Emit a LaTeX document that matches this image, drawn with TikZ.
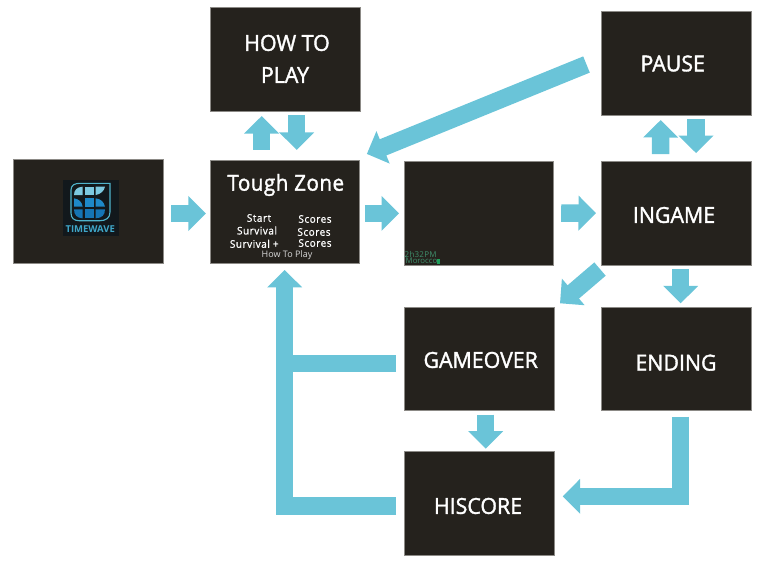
\documentclass[tikz,border=0pt]{standalone}
\usepackage{fontspec}
\setmainfont{Open Sans}
\newfontfamily\labelfont[FakeStretch=0.97,FakeBold=1.6]{Open Sans}
\newfontfamily\smallfont[FakeBold=1,LetterSpace=5,FakeStretch=0.95]{Open Sans}
\newfontfamily\titlefont[FakeStretch=0.94,FakeBold=1.6,LetterSpace=2]{Open Sans}
\newfontfamily\clockfont[LetterSpace=3]{Open Sans}
\newfontfamily\placefont{Open Sans}
\usetikzlibrary{arrows.meta,calc}
\definecolor{boxfill}{HTML}{25221D}
\definecolor{boxline}{HTML}{8C8A86}
\definecolor{flowblue}{HTML}{6AC4D8}
\definecolor{clockgreen}{HTML}{3F8F6C}
\definecolor{clocksquare}{HTML}{1E9E5A}
\definecolor{logobg}{HTML}{12181C}
\definecolor{logoedge}{HTML}{4FB4CC}
\definecolor{logolight}{HTML}{7CC8E0}
\definecolor{logomid}{HTML}{1E88C8}
\definecolor{logodark}{HTML}{1574B4}
\definecolor{logotextc}{HTML}{3FA6C8}
\tikzset{
  screen/.style={draw=boxline,line width=0.5pt,fill=boxfill,inner sep=0pt,outer sep=0pt},
  flow/.style={draw=flowblue,line width=17.5pt,line cap=butt,line join=miter,-{Triangle[length=17.5pt,width=34pt,color=flowblue]}},
  branch/.style={draw=flowblue,line width=17.5pt,line cap=butt,line join=miter},
  biglabel/.style={text=white,inner sep=0pt,text height=15.7pt,text depth=0pt,font=\fontsize{22pt}{22pt}\labelfont},
  small/.style={text=white,inner sep=0pt,text height=7.5pt,text depth=0pt,font=\fontsize{10.5pt}{10.5pt}\smallfont},
  clock/.style={text=clockgreen,inner sep=0pt,anchor=base west,font=\fontsize{8pt}{8pt}\clockfont},
}
\begin{document}
\begin{tikzpicture}[x=1pt,y=-1pt]
\useasboundingbox (0,0) rectangle (765,563);
% screens
\node[screen,minimum width=150pt,minimum height=104pt] (logo) at (88,211) {};
\node[screen,minimum width=149.5pt,minimum height=103.7pt] (tough) at (284.7,211.8) {};
\node[screen,minimum width=149.7pt,minimum height=104pt] (blank) at (478.85,213) {};
\node[screen,minimum width=149.7pt,minimum height=103.7pt] (ingame) at (676.15,213.2) {};
\node[screen,minimum width=149.6pt,minimum height=104pt] (howto) at (285.5,59.3) {};
\node[screen,minimum width=150pt,minimum height=104pt] (pause) at (676,63.7) {};
\node[screen,minimum width=150pt,minimum height=103.7pt] (gameover) at (479.7,358.85) {};
\node[screen,minimum width=149.7pt,minimum height=103.7pt] (ending) at (676.15,358.85) {};
\node[screen,minimum width=150pt,minimum height=103.7pt] (hiscore) at (479.7,503.5) {};
% connectors
\draw[flow] ($(logo.east)+(8,2.5)$) -- ($(tough.west)+(-4,1.7)$);
\draw[flow] ($(tough.east)+(5.3,1.5)$) -- ($(blank.west)+(-5,0.3)$);
\draw[flow] ($(blank.east)+(7.5,0)$) -- ($(ingame.west)+(-5.3,0)$);
\draw[flow] ($(tough.north)+(-23,-10)$) -- ($(howto.south)+(-23.8,4.7)$);
\draw[flow] ($(howto.south)+(11.2,3.7)$) -- ($(tough.north)+(12,-10)$);
\draw[flow] ($(ingame.north)+(-15.5,-7.3)$) -- ($(pause.south)+(-15.3,4.3)$);
\draw[flow] ($(pause.south)+(20,3.3)$) -- ($(ingame.north)+(19.85,-8.3)$);
\draw[flow] ($(pause.west)+(-14.5,0.8)$) -- ($(tough.north east)+(7.4,-6)$);
\draw[flow] ($(ingame.south west)+(-1.3,4)$) -- ($(gameover.north east)+(5.3,-3.7)$);
\draw[flow] ($(ingame.south)+(4.55,4)$) -- ($(ending.north)+(4.55,-3.7)$);
\draw[flow] ($(gameover.south)+(6,4)$) -- ($(hiscore.north)+(6,-3)$);
\draw[flow] ($(ending.south)+(4.15,6)$) |- ($(hiscore.east)+(8,-7.2)$);
\draw[branch] ($(gameover.west)+(-8.7,4.85)$) -| ($(tough.south)+(0,30)$);
\draw[flow] ($(hiscore.west)+(-8.7,2.5)$) -| ($(tough.south)+(0,6.3)$);
% labels
\node[biglabel] (l1) at (287,43) {HOW TO};
\node[biglabel] (l2) at (285,75) {PLAY};
\node[biglabel] (l3) at (672.7,63.5) {PAUSE};
\node[biglabel] (l4) at (674,215) {INGAME};
\node[biglabel] (l5) at (480.7,360) {GAMEOVER};
\node[biglabel] (l6) at (676,362.7) {ENDING};
\node[biglabel] (l7) at (478,506) {HISCORE};
\node[biglabel,font=\fontsize{22pt}{22pt}\titlefont] (t0) at (285.8,182.8) {Tough Zone};
\node[small] (t1) at (259,218) {Start};
\node[small] (t2) at (257,230.7) {Survival};
\node[small] (t3) at (254.3,244) {Survival +};
\node[small] (t4) at (315,219) {Scores};
\node[small] (t5) at (314,232) {Scores};
\node[small] (t6) at (315,243) {Scores};
\node[text=white!85!black,inner sep=0pt,text height=6.4pt,text depth=0pt,font=\fontsize{9pt}{9pt}\selectfont] (t7) at (287,254) {How To Play};
% clock
\node[clock] (c1) at (404.5,257) {2h32PM};
\node[clock,font=\fontsize{7.8pt}{7.8pt}\placefont] (c2) at (405.5,263.6) {Morocco};
\fill[fill=clocksquare] (437,259.3) rectangle (440,263.7);
% logo
\fill[logobg] (62.7,180) rectangle (119,235.7);
\draw[color=logoedge,fill=logobg,line width=1.1pt] (71,190) .. controls (71,185) and (75,183.3) .. (80,183.3) -- (110,183.3) -- (110,212) .. controls (110,218) and (106,220.7) .. (100,220.7) -- (79,220.7) .. controls (74,220.7) and (71,218) .. (71,213) -- cycle;
\fill[color=logolight] (74,195) .. controls (74,190) and (77,187) .. (82.7,186.7) -- (82.7,195) -- cycle;
\fill[color=logolight] (85,186.7) rectangle (94,195);
\fill[color=logolight] (95.7,186.7) -- (105,186.7) .. controls (104,191) and (101,194) .. (95.7,195) -- cycle;
\fill[color=logomid] (74,198.3) .. controls (79,199) and (82,202) .. (82.7,206.7) -- (74,206.7) -- cycle;
\fill[color=logomid] (85,198.3) rectangle (94,206.7);
\fill[color=logomid] (95.7,198.3) .. controls (101,199) and (104,202) .. (105,206.7) -- (95.7,206.7) -- cycle;
\fill[color=logodark] (74,209.3) -- (82.7,209.3) -- (82.7,218.3) .. controls (77,218) and (74,215) .. (74,209.3);
\fill[color=logodark] (85,209.3) rectangle (94,218.3);
\fill[color=logodark] (95.7,209.3) -- (105,209.3) .. controls (105,215) and (102,218) .. (95.7,218.3) -- cycle;
\node[text=logotextc,inner sep=0pt,text height=6.8pt,text depth=0pt,font=\fontsize{9.5pt}{9.5pt}\selectfont\bfseries] (logotext) at (90.2,229.2) {TIMEWAVE};
\end{tikzpicture}
\end{document}
